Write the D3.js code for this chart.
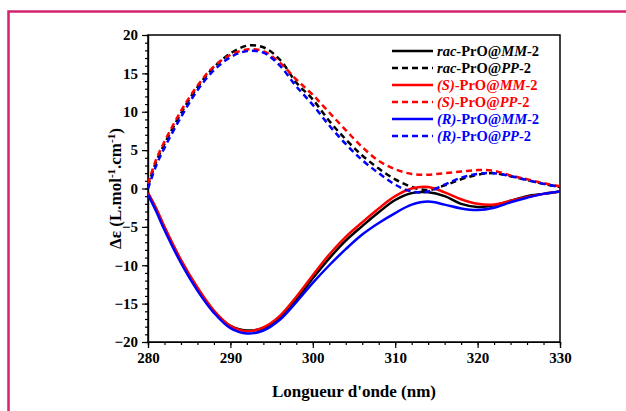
<!DOCTYPE html>
<html>
<head>
    <meta charset="utf-8"/>
    <title>CD spectra</title>
    <script src="https://d3js.org/d3.v7.min.js"></script>
    <style>
        body { margin: 0; background: #ffffff; }
        svg { display: block; }
        .axis text { font-family: "Liberation Serif", "Times New Roman", serif; font-weight: bold; font-size: 15px; fill: #000; }
        .axis line, .axis path { stroke: #000; stroke-width: 1.2; }
    </style>
</head>
<body>
<div id="chart"></div>
<script>
    // wavelength (nm)
    const wavelength = [280, 281, 282, 284, 286, 288, 290, 292, 294, 296, 298, 300, 302, 304, 306, 308, 310, 312, 314, 316, 318, 320, 322, 324, 326, 328, 330]

    // delta epsilon values
    const racMM = [-0.6, -2.7, -5.1, -9.4, -13.0, -16.0, -17.9, -18.5, -18.2, -16.9, -14.5, -11.7, -9.1, -6.8, -4.9, -3.1, -1.5, -0.6, -0.5, -1.0, -2.0, -2.4, -2.2, -1.6, -1.0, -0.7, -0.4]
    const racPP = [0.3, 3.5, 5.8, 9.8, 13.2, 15.8, 17.6, 18.6, 18.4, 16.8, 13.8, 11.6, 8.8, 6.4, 4.3, 2.6, 1.2, 0.2, -0.2, 0.4, 1.2, 1.8, 2.0, 1.6, 1.1, 0.6, 0.2]
    const sMM = [-0.6, -2.6, -5.0, -9.3, -12.9, -15.9, -17.9, -18.6, -18.1, -16.6, -14.1, -11.3, -8.6, -6.3, -4.4, -2.6, -1.0, 0.0, 0.2, -0.5, -1.4, -2.0, -2.1, -1.6, -1.1, -0.7, -0.4]
    const sPP = [0.6, 3.8, 6.1, 10.1, 13.4, 15.9, 17.4, 18.1, 17.9, 16.4, 14.2, 12.2, 9.9, 7.6, 5.4, 3.6, 2.5, 1.9, 1.8, 2.0, 2.2, 2.4, 2.3, 1.7, 1.2, 0.7, 0.3]
    const rMM = [-0.8, -3.0, -5.4, -9.7, -13.3, -16.2, -18.2, -18.9, -18.5, -17.1, -14.8, -12.3, -10.0, -7.9, -6.0, -4.5, -3.2, -2.1, -1.7, -2.1, -2.6, -2.8, -2.5, -1.8, -1.2, -0.7, -0.4]
    const rPP = [0.0, 3.0, 5.3, 9.3, 12.8, 15.4, 17.1, 17.9, 17.7, 16.0, 13.3, 10.9, 8.2, 5.8, 3.7, 2.0, 0.5, -0.4, -0.4, 0.5, 1.4, 1.9, 2.0, 1.6, 1.1, 0.6, 0.2]

    const xTicks = [280, 290, 300, 310, 320, 330]
    const yTicks = [-20, -15, -10, -5, 0, 5, 10, 15, 20]

    const series = [
        { prefix: 'rac', film: 'MM', values: racMM, color: '#000000', dashed: false },
        { prefix: 'rac', film: 'PP', values: racPP, color: '#000000', dashed: true },
        { prefix: '(S)', film: 'MM', values: sMM, color: '#ff0000', dashed: false },
        { prefix: '(S)', film: 'PP', values: sPP, color: '#ff0000', dashed: true },
        { prefix: '(R)', film: 'MM', values: rMM, color: '#0000ff', dashed: false },
        { prefix: '(R)', film: 'PP', values: rPP, color: '#0000ff', dashed: true }
    ]

    const W = 626, H = 411
    const plot = { left: 148, right: 560, top: 35, bottom: 342 }
    const FONT = '"Liberation Serif", "Times New Roman", serif'

    const svg = d3.select('#chart').append('svg')
        .attr('width', W)
        .attr('height', H)

    // pink frame around the figure
    svg.append('rect')
        .attr('x', 8.5).attr('y', 11.5)
        .attr('width', 700).attr('height', 500)
        .style('fill', 'none')
        .style('stroke', '#d4236f')
        .style('stroke-width', 2.5)

    const x = d3.scaleLinear().domain([280, 330]).range([plot.left, plot.right])
    const y = d3.scaleLinear().domain([-20, 20]).range([plot.bottom, plot.top])

    // minor ticks
    svg.append('g').attr('class', 'axis')
        .attr('transform', `translate(0,${plot.bottom})`)
        .call(d3.axisBottom(x).tickValues(d3.range(280, 331, 2)).tickSize(3).tickFormat(''))
    svg.append('g').attr('class', 'axis')
        .attr('transform', `translate(${plot.left},0)`)
        .call(d3.axisLeft(y).tickValues(d3.range(-20, 21, 1)).tickSize(3).tickFormat(''))

    // major ticks
    svg.append('g').attr('class', 'axis')
        .attr('transform', `translate(0,${plot.bottom})`)
        .call(d3.axisBottom(x).tickValues(xTicks).tickSize(6).tickPadding(4))
    svg.append('g').attr('class', 'axis')
        .attr('transform', `translate(${plot.left},0)`)
        .call(d3.axisLeft(y).tickValues(yTicks).tickSize(6).tickPadding(4))

    // frame of the plot
    svg.append('rect')
        .attr('x', plot.left).attr('y', plot.top)
        .attr('width', plot.right - plot.left).attr('height', plot.bottom - plot.top)
        .style('fill', 'none')
        .style('stroke', '#000')
        .style('stroke-width', 1.5)

    const line = d3.line()
        .x((d, i) => x(wavelength[i]))
        .y(d => y(d))
        .curve(d3.curveCatmullRom)

    series.forEach(s => {
        svg.append('path')
            .datum(s.values)
            .attr('d', line)
            .style('fill', 'none')
            .style('stroke', s.color)
            .style('stroke-width', 2.5)
            .style('stroke-dasharray', s.dashed ? '6,4' : null)
    })

    // legend
    const legend = svg.append('g')
    series.forEach((s, i) => {
        const ly = 51 + i * 17
        legend.append('line')
            .attr('x1', 392).attr('x2', 433)
            .attr('y1', ly).attr('y2', ly)
            .style('stroke', s.color)
            .style('stroke-width', 2.5)
            .style('stroke-dasharray', s.dashed ? '6,4' : null)
        const t = legend.append('text')
            .attr('x', 437).attr('y', ly + 5)
            .style('font-family', FONT)
            .style('font-weight', 'bold')
            .style('font-size', '14.5px')
            .style('fill', s.color)
        t.append('tspan').style('font-style', 'italic').text(s.prefix)
        t.append('tspan').text('-PrO@')
        t.append('tspan').style('font-style', 'italic').text(s.film)
        t.append('tspan').text('-2')
    })

    // axis titles
    svg.append('text')
        .attr('x', (plot.left + plot.right) / 2)
        .attr('y', 397)
        .attr('text-anchor', 'middle')
        .style('font-family', FONT)
        .style('font-weight', 'bold')
        .style('font-size', '17px')
        .text("Longueur d'onde (nm)")

    const yt = svg.append('text')
        .attr('transform', `translate(121,${(plot.top + plot.bottom) / 2}) rotate(-90)`)
        .attr('text-anchor', 'middle')
        .style('font-family', FONT)
        .style('font-weight', 'bold')
        .style('font-size', '17px')
    yt.append('tspan').text('Δε (L.mol')
    yt.append('tspan').attr('dy', -6).style('font-size', '11px').text('-1')
    yt.append('tspan').attr('dy', 6).text('.cm')
    yt.append('tspan').attr('dy', -6).style('font-size', '11px').text('-1')
    yt.append('tspan').attr('dy', 6).text(')')
</script>
</body>
</html>
